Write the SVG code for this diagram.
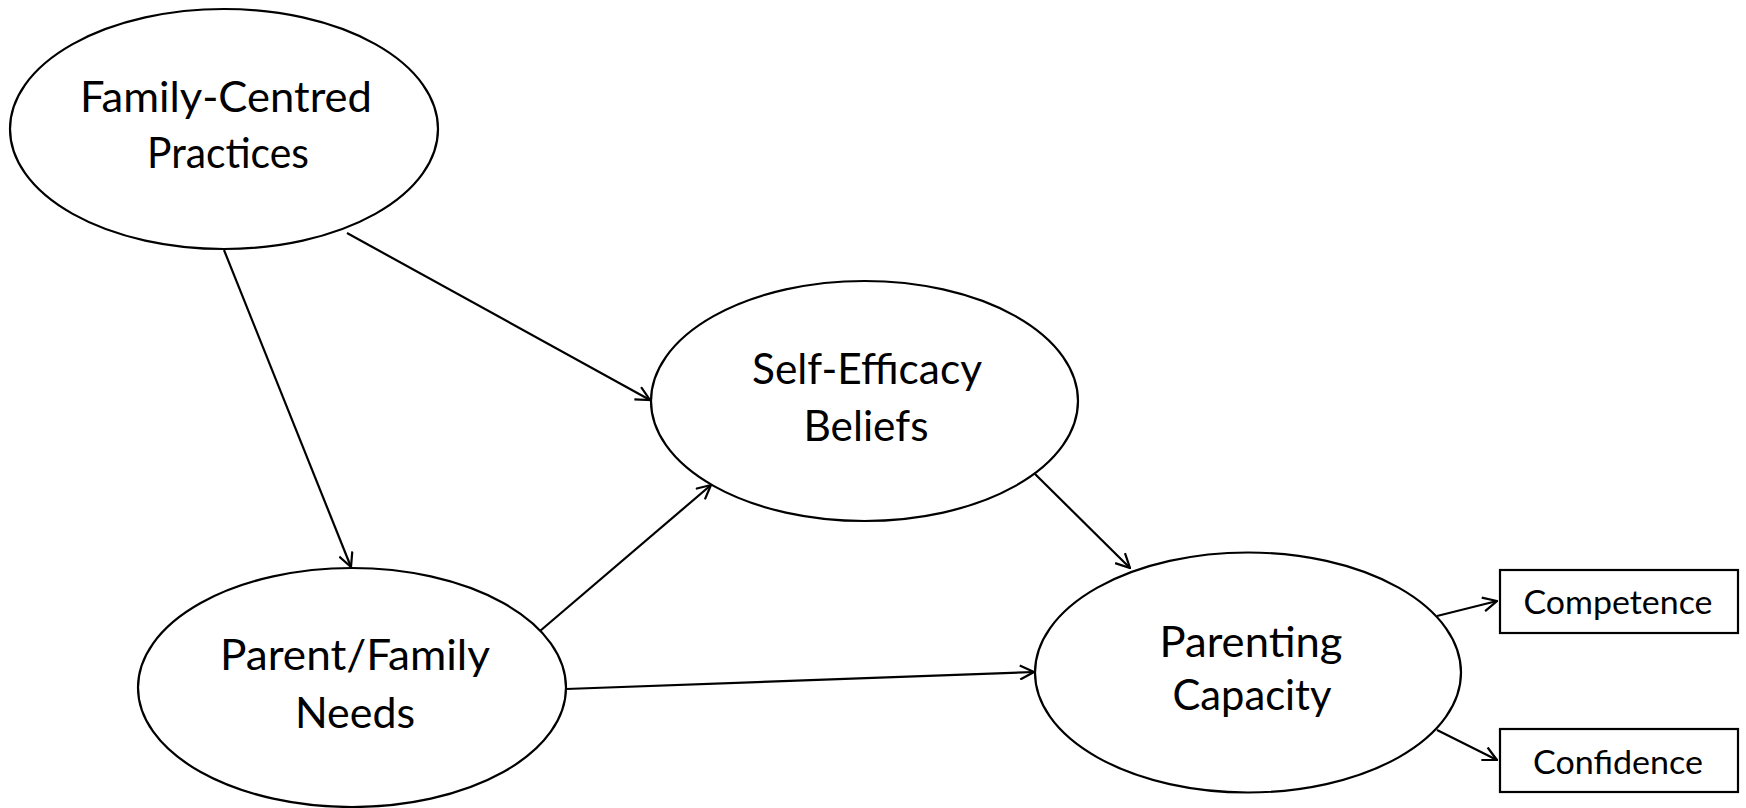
<svg xmlns="http://www.w3.org/2000/svg" width="1746" height="808" viewBox="0 0 1746 808">
<style>
.node ellipse, .node rect { fill: #fff; stroke: #000; stroke-width: 2.2; }
.big { font-family: Lato, "Open Sans", "Liberation Sans", sans-serif; font-size: 43px; text-anchor: middle; fill: #000; }
.small { font-family: Lato, "Open Sans", "Liberation Sans", sans-serif; font-size: 32px; text-anchor: middle; fill: #000; }
.edges line { stroke: #000; stroke-width: 2.2; fill: none; marker-end: url(#arr); }
</style>
<defs>
<marker id="arr" viewBox="0 0 16 16" refX="15" refY="8" markerWidth="16" markerHeight="16" markerUnits="userSpaceOnUse" orient="auto">
<path d="M1,1 L15,8 L1,15" fill="none" stroke="#000" stroke-width="2.2"/>
</marker>
</defs>
<rect width="1746" height="808" fill="#fff"/>
<g class="edges">
<line x1="224" y1="250" x2="351" y2="567"/>
<line x1="347" y1="233" x2="650" y2="400"/>
<line x1="540" y1="631" x2="711" y2="485"/>
<line x1="1035" y1="474" x2="1130" y2="568"/>
<line x1="566" y1="689" x2="1034" y2="672"/>
<line x1="1437" y1="616" x2="1497" y2="601"/>
<line x1="1437" y1="730" x2="1497" y2="760"/>
</g>
<g id="family-centred" class="node">
<ellipse cx="224" cy="129" rx="214" ry="120"/>
<text class="big" x="226" y="112" textLength="292" lengthAdjust="spacingAndGlyphs">Family-Centred</text>
<text class="big" x="228" y="168" textLength="162" lengthAdjust="spacingAndGlyphs">Practices</text>
</g>
<g id="self-efficacy" class="node">
<ellipse cx="864.5" cy="401" rx="213.5" ry="120"/>
<text class="big" x="867" y="384" textLength="230" lengthAdjust="spacingAndGlyphs">Self-Efficacy</text>
<text class="big" x="866" y="441" textLength="125" lengthAdjust="spacingAndGlyphs">Beliefs</text>
</g>
<g id="parent-family" class="node">
<ellipse cx="352" cy="687.5" rx="214" ry="119.5"/>
<text class="big" x="355" y="670" textLength="270" lengthAdjust="spacingAndGlyphs">Parent/Family</text>
<text class="big" x="355" y="728" textLength="120" lengthAdjust="spacingAndGlyphs">Needs</text>
</g>
<g id="parenting-capacity" class="node">
<ellipse cx="1248" cy="672.5" rx="213" ry="120"/>
<text class="big" x="1251" y="657" textLength="183" lengthAdjust="spacingAndGlyphs">Parenting</text>
<text class="big" x="1252" y="710" textLength="159" lengthAdjust="spacingAndGlyphs">Capacity</text>
</g>
<g id="competence" class="node">
<rect x="1500" y="570" width="238" height="63"/>
<text class="small" x="1618" y="614" textLength="189" lengthAdjust="spacingAndGlyphs">Competence</text>
</g>
<g id="confidence" class="node">
<rect x="1500" y="729" width="238" height="63"/>
<text class="small" x="1618" y="774" textLength="170" lengthAdjust="spacingAndGlyphs">Confidence</text>
</g>
</svg>
